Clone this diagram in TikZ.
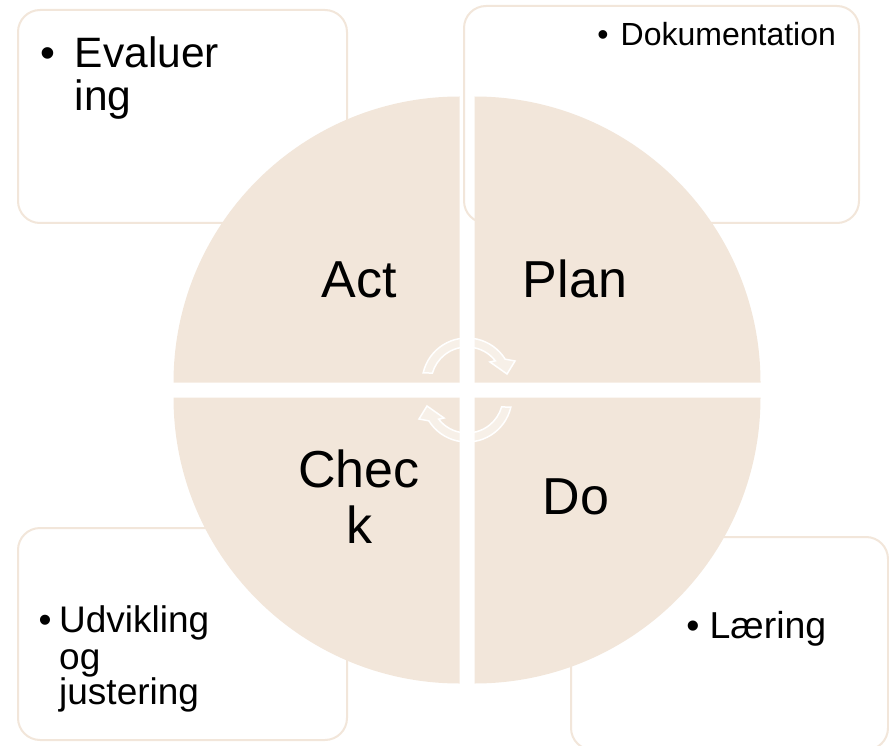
\documentclass[tikz,border=0pt]{standalone}
\usepackage{fontspec}
\setmainfont{Liberation Sans}
\usetikzlibrary{positioning}
\definecolor{tan}{RGB}{242,230,218}

\begin{document}
\begin{tikzpicture}[
	x=1pt, y=1pt,
	quad/.style = {fill=tan},
	box/.style = {draw=tan, line width=2pt, fill=white, rounded corners=22pt, inner sep=0pt},
	cyc/.style = {draw=white, line width=1.5pt, fill=white, fill opacity=0.4},
	big/.style = {font=\fontsize{52}{56}\selectfont, inner sep=0pt, anchor=base},
	item/.style = {inner sep=0pt, anchor=base west},
	dot/.style = {inner sep=0pt, anchor=base}
	]
	\useasboundingbox (0,0) rectangle (889,-746);

	% corner boxes
	\node[box, minimum width=329pt, minimum height=213pt] (evalbox) at (182.5,-116.5) {};
	\node[box, minimum width=395pt, minimum height=217pt] (dokbox) at (661.5,-114.5) {};
	\node[box, minimum width=329pt, minimum height=212pt] (udvbox) at (182.5,-634) {};
	\node[box, minimum width=317pt, minimum height=213pt] (laerbox) at (729.5,-643.5) {};

	% the four quarters
	\coordinate (@tl) at (459.5,-382.5);
	\coordinate (@tr) at (474.5,-382.5);
	\coordinate (@bl) at (459.5,-397.5);
	\coordinate (@br) at (474.5,-397.5);

	\fill[quad] (@tl) -- ++(180:286) arc[start angle=180, end angle=90, radius=286] -- cycle;
	\fill[quad] (@tr) -- ++(90:286) arc[start angle=90, end angle=0, radius=286] -- cycle;
	\fill[quad] (@bl) -- ++(270:286) arc[start angle=270, end angle=180, radius=286] -- cycle;
	\fill[quad] (@br) -- ++(0:286) arc[start angle=0, end angle=-90, radius=286] -- cycle;

	% cycle arrows
	\begin{scope}[shift={(467,-383)}]
		\draw[cyc] (167:45) arc[start angle=167, end angle=32, radius=45] -- (48,22) -- (40,9) -- (23,21)
			-- (38:36) arc[start angle=38, end angle=164, radius=36] -- cycle;
	\end{scope}
	\begin{scope}[shift={(467,-397)}, rotate=180]
		\draw[cyc] (167:45) arc[start angle=167, end angle=32, radius=45] -- (48,22) -- (40,9) -- (23,21)
			-- (38:36) arc[start angle=38, end angle=164, radius=36] -- cycle;
	\end{scope}

	% quarter labels
	\node[big] (act) at (359,-297) {Act};
	\node[big] (plan) at (575,-297) {Plan};
	\node[big] (check1) at (359,-487) {Chec};
	\node[big] (check2) at (359,-543) {k};
	\node[big] (do) at (576,-514) {Do};

	% box texts
	\node[dot, font=\fontsize{42.5}{46}\selectfont] (evalb) at (48.3,-68) {•};
	\node[item, font=\fontsize{42.5}{46}\selectfont] (eval1) at (74.7,-68) {Evaluer};
	\node[item, font=\fontsize{42.5}{46}\selectfont] (eval2) at (74.7,-111) {ing};

	\node[dot, font=\fontsize{32}{34}\selectfont] (dokb) at (603,-46) {•};
	\node[item, font=\fontsize{32}{34}\selectfont] (dok) at (620.5,-46) {Dokumentation};

	\node[dot, font=\fontsize{37}{40}\selectfont] (udvb) at (45,-632) {•};
	\node[item, font=\fontsize{37}{40}\selectfont] (udv1) at (59,-632) {Udvikling};
	\node[item, font=\fontsize{37}{40}\selectfont] (udv2) at (59,-669) {og};
	\node[item, font=\fontsize{37}{40}\selectfont] (udv3) at (59,-704) {justering};

	\node[dot, font=\fontsize{37.5}{40}\selectfont] (laerb) at (693,-638) {•};
	\node[item, font=\fontsize{37.5}{40}\selectfont] (laer) at (709.4,-638) {Læring};

\end{tikzpicture}
\end{document}
